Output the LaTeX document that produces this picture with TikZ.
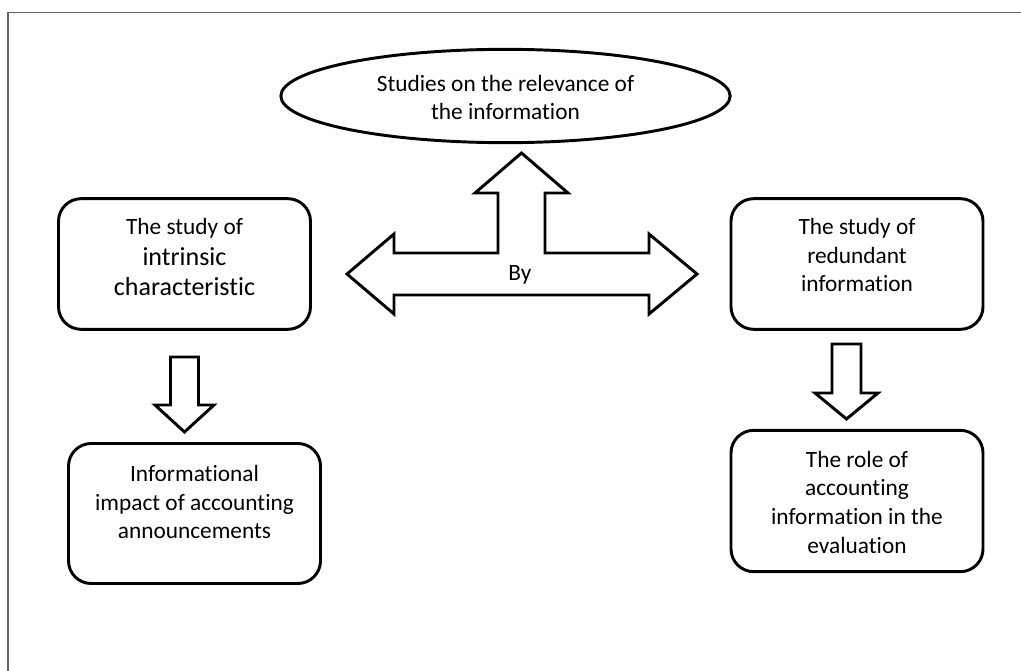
\documentclass[tikz,border=0pt]{standalone}
\usepackage{fontspec}
\setmainfont{Carlito}[RawFeature={-liga;-clig;-dlig}]
\usetikzlibrary{shapes.geometric}
\tikzset{
  px/.style={x=0.75pt,y=-0.75pt},
  outl/.style={draw=black,line width=2.2pt,line join=miter},
  boxnode/.style={draw=black,line width=2.2pt,rounded corners=17pt,inner sep=0pt},
  ovalnode/.style={draw=black,line width=2.2pt,ellipse,inner sep=0pt},
  txt/.style={align=center,font=\fontsize{17.5}{21.5}\selectfont,inner sep=0pt},
  frame/.style={draw=black!60,line width=1.1pt}
}
\begin{document}
\begin{tikzpicture}[px]
\useasboundingbox (0,0) rectangle (1021,671);
% page frame
\draw[frame] (1021,12.5) -- (8,12.5) -- (8,671);
% ellipse
\node[ovalnode,minimum width=337pt,minimum height=70pt] (top) at (505.5,96) {};
\node[txt] (toptxt) at (505.5,97.5) {Studies on the relevance of\\the information};
% boxes
\node[boxnode,minimum width=189pt,minimum height=98pt] (b1) at (184.5,264) {};
\node[txt] (b1txt) at (184.5,257) {The study of\\[2pt]{\fontsize{19.5}{23}\selectfont intrinsic}\\[1pt]{\fontsize{19.5}{23}\selectfont characteristic}};
\node[boxnode,minimum width=189pt,minimum height=98pt] (b2) at (857,264) {};
\node[txt] (b2txt) at (857,255) {The study of\\redundant\\information};
\node[boxnode,minimum width=189pt,minimum height=105pt] (b3) at (194.5,513.5) {};
\node[txt] (b3txt) at (194.5,502) {Informational\\impact of accounting\\announcements};
\node[boxnode,minimum width=189pt,minimum height=106pt] (b4) at (857,501) {};
\node[txt] (b4txt) at (857,502) {The role of\\accounting\\information in the\\evaluation};
% T-shaped block arrow
\draw[outl] (521.5,153) -- (568,193) -- (545,193) -- (545,253) -- (649,253) -- (649,234)
  -- (697,274) -- (649,314) -- (649,295) -- (394,295) -- (394,314) -- (347,274)
  -- (394,234) -- (394,253) -- (498,253) -- (498,193) -- (475,193) -- cycle;
\node[txt] (by) at (520,275) {By};
% small down arrows
\draw[outl] (170.5,357) -- (198.5,357) -- (198.5,405) -- (214,405) -- (184.5,432)
  -- (155,405) -- (170.5,405) -- cycle;
\draw[outl] (832,344) -- (861,344) -- (861,393) -- (878,393) -- (846.5,419)
  -- (815,393) -- (832,393) -- cycle;
\end{tikzpicture}
\end{document}
